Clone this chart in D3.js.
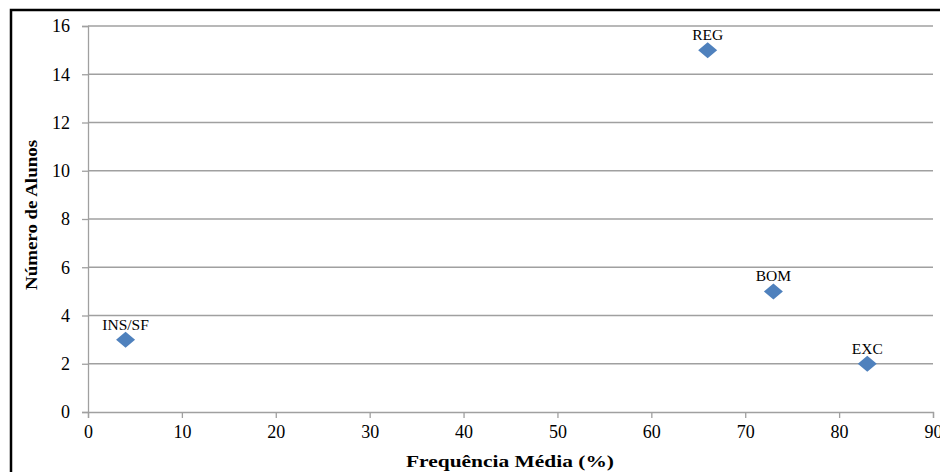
<!DOCTYPE html>
<html><head><meta charset="utf-8">
<script src="https://cdn.jsdelivr.net/npm/d3@7"></script>
<style>body{margin:0;background:#fff}svg{display:block}</style>
</head><body>
<script>
const categories = ["INS/SF", "REG", "BOM", "EXC"];
const freqValues = [4, 66, 73, 83];
const alunosValues = [3, 15, 5, 2];
const xTicks = [0,10,20,30,40,50,60,70,80,90];
const yTicks = [0,2,4,6,8,10,12,14,16];

const W = 940, H = 472;
const svg = d3.select("body").append("svg").attr("width", W).attr("height", H);
svg.append("rect").attr("x",0).attr("y",0).attr("width",W).attr("height",H).attr("fill","#fff");
// frame
svg.append("rect").attr("x",11).attr("y",10).attr("width",W+20).attr("height",H+20)
  .attr("fill","none").attr("stroke","#000").attr("stroke-width",2.5);

const x = d3.scaleLinear().domain([0,90]).range([88,933]);
const y = d3.scaleLinear().domain([0,16]).range([412,26]);
const font = "'Liberation Serif','Times New Roman',serif";
const grey = "#a0a0a0";

// gridlines
svg.append("g").selectAll("line").data(yTicks.filter(d=>d>0)).join("line")
  .attr("x1",x(0)).attr("x2",x(90)).attr("y1",d=>y(d)).attr("y2",d=>y(d))
  .attr("stroke",grey).attr("stroke-width",1.3);

// y axis
const yAxis = svg.append("g").attr("transform",`translate(${x(0)},0)`)
  .call(d3.axisLeft(y).tickValues(yTicks).tickSize(6).tickPadding(12));
yAxis.attr("font-family",font).attr("font-size",18);
yAxis.select(".domain").attr("stroke",grey).attr("stroke-width",1.3);
yAxis.selectAll(".tick line").attr("stroke",grey).attr("stroke-width",1.3);
yAxis.selectAll("text").attr("font-family",font).attr("font-size",18).attr("fill","#000");

// x axis
const xAxis = svg.append("g").attr("transform",`translate(0,${y(0)})`)
  .call(d3.axisBottom(x).tickValues(xTicks).tickSize(6).tickPadding(7));
xAxis.attr("font-family",font).attr("font-size",18);
xAxis.select(".domain").attr("stroke",grey).attr("stroke-width",1.3);
xAxis.selectAll(".tick line").attr("stroke",grey).attr("stroke-width",1.3);
xAxis.selectAll("text").attr("font-family",font).attr("font-size",18).attr("fill","#000");

// points
const pts = categories.map((c,i)=>({c, fx:freqValues[i], ny:alunosValues[i]}));
svg.append("g").selectAll("path").data(pts).join("path")
  .attr("d", d=>{const cx=x(d.fx), cy=y(d.ny); return `M${cx},${cy-8}L${cx+9.5},${cy}L${cx},${cy+8}L${cx-9.5},${cy}Z`;})
  .attr("fill","#4F81BD");
svg.append("g").selectAll("text").data(pts).join("text")
  .attr("x",d=>x(d.fx)).attr("y",d=>y(d.ny)-10)
  .attr("text-anchor","middle").attr("font-family",font).attr("font-size",15.5)
  .text(d=>d.c);

// axis titles
svg.append("text").attr("x",510).attr("y",467).attr("text-anchor","middle")
  .attr("font-family",font).attr("font-weight","bold").attr("font-size",17)
  .attr("textLength",208).attr("lengthAdjust","spacingAndGlyphs")
  .text("Frequência Média (%)");
svg.append("text").attr("transform","translate(37,215) rotate(-90)").attr("text-anchor","middle")
  .attr("font-family",font).attr("font-weight","bold").attr("font-size",17)
  .attr("textLength",150).attr("lengthAdjust","spacingAndGlyphs")
  .text("Número de Alunos");
</script>
</body></html>
